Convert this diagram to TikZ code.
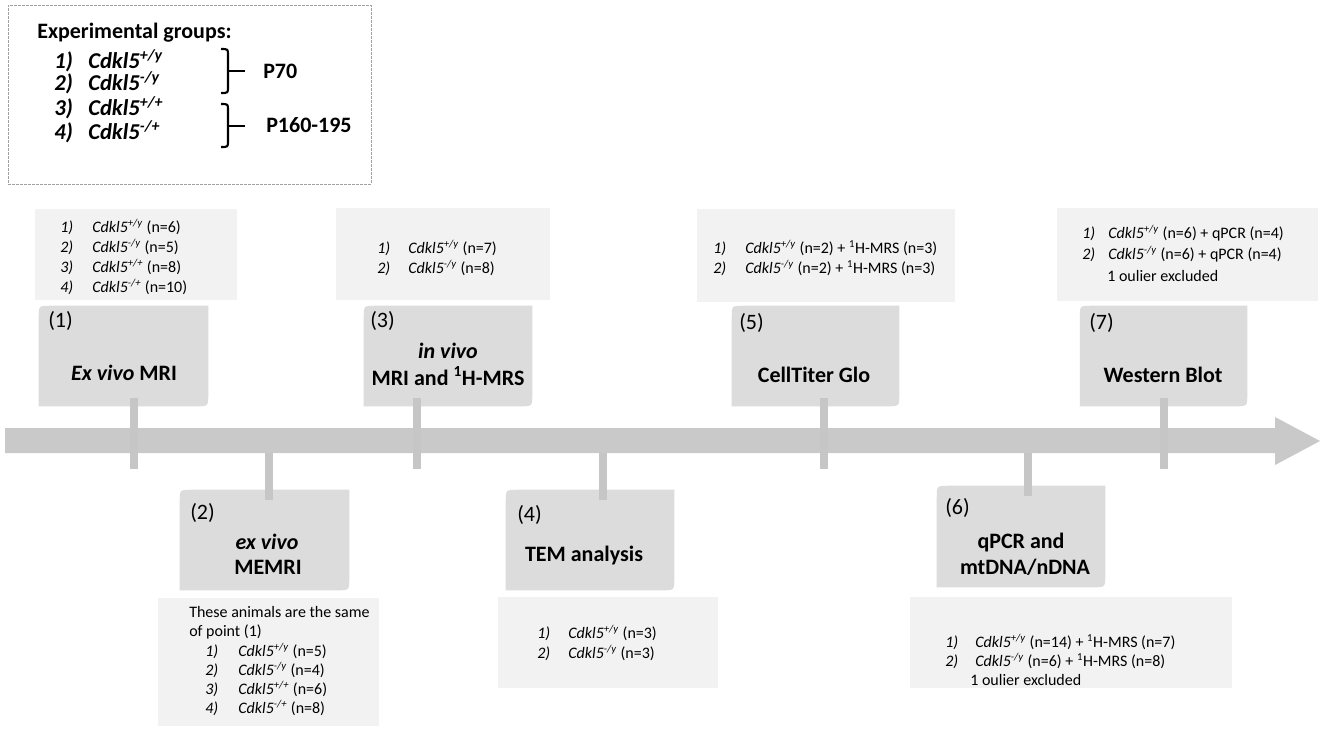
\documentclass[tikz,border=0pt]{standalone}
\usepackage{fontspec}
\setmainfont{Carlito}
\usetikzlibrary{calc,fit}
\definecolor{stepfill}{RGB}{220,220,220}
\definecolor{infofill}{RGB}{242,242,242}
\definecolor{barfill}{RGB}{201,201,201}
\definecolor{tickcol}{RGB}{198,198,198}
\definecolor{framecol}{RGB}{160,160,160}
\newcommand\gene[1]{\textit{Cdkl5}\textsuperscript{\textit{#1}}}
\newcommand\nm[2]{\makebox[#1pt][l]{\textit{#2)}}}
\newcommand\stepshape[1]{%
  \fill[stepfill] (#1.south west) -- ($(#1.north west)+(0,12)$)
    .. controls (#1.north west) .. ($(#1.north west)+(12,0)$)
    -- (#1.north east) -- ($(#1.south east)+(0,-12)$)
    .. controls (#1.south east) .. ($(#1.south east)+(-12,0)$) -- cycle;}
\tikzset{
  infobox/.style={fill=infofill, inner sep=0pt, draw=none},
  stepframe/.style={inner sep=0pt, draw=none},
  infotext/.style={anchor=west, inner sep=0pt, font=\fontsize{12}{15}\selectfont},
  stepnum/.style={anchor=west, inner sep=0pt, font=\fontsize{16.5}{19}\selectfont},
  steplabel/.style={inner sep=0pt, font=\bfseries\fontsize{16.5}{19}\selectfont},
  legtext/.style={anchor=west, inner sep=0pt, font=\bfseries\fontsize{16.5}{19}\selectfont},
  legitem/.style={anchor=west, inner sep=0pt, font=\bfseries\itshape\fontsize{17}{19}\selectfont},
  tickline/.style={draw=tickcol, line width=6pt},
  bracketline/.style={draw=black, line width=1.6pt},
  legframe/.style={draw=framecol, line width=0.75pt, dash pattern=on 2pt off 1pt, inner sep=0pt},
}
\begin{document}
\begin{tikzpicture}[x=0.75pt, y=-0.75pt]
\useasboundingbox (0,0) rectangle (1323,729);
\fill[white] (0,0) rectangle (1323,729);

% ---------- legend ----------
\node[legframe, fit={(8,5) (371,184)}] (legend) {};
\node[legtext] (lg0) at (37,33) {Experimental groups:};
\node[legitem] (lg1) at (54,61) {\makebox[25.5pt][l]{1)}Cdkl5\textsuperscript{+/y}};
\node[legitem] (lg2) at (54,83) {\makebox[25.5pt][l]{2)}Cdkl5\textsuperscript{-/y}};
\node[legitem] (lg3) at (54,108) {\makebox[25.5pt][l]{3)}Cdkl5\textsuperscript{+/+}};
\node[legitem] (lg4) at (54,132) {\makebox[25.5pt][l]{4)}Cdkl5\textsuperscript{-/+}};
\node[legtext] (p70) at (263,71) {P70};
\node[legtext] (p160) at (266,125) {P160-195};
\draw[bracketline] (221,49) .. controls (228,49) .. (228,55) -- (228,87) .. controls (228,93) .. (221,93);
\draw[bracketline] (228,71) -- (245,71);
\draw[bracketline] (221,104) .. controls (228,104) .. (228,110) -- (228,141) .. controls (228,147) .. (221,147);
\draw[bracketline] (228,126) -- (245,126);

% ---------- info boxes (top) ----------
\node[infobox, fit={(35,209) (237,300)}] (i1) {};
\node[infotext] (i1a) at (60,227) {\nm{24}{1}\gene{+/y} (n=6)};
\node[infotext] (i1b) at (60,247) {\nm{24}{2}\gene{-/y} (n=5)};
\node[infotext] (i1c) at (60,267) {\nm{24}{3}\gene{+/+} (n=8)};
\node[infotext] (i1d) at (60,287) {\nm{24}{4}\gene{-/+} (n=10)};

\node[infobox, fit={(336,208) (550,300)}] (i3) {};
\node[infotext] (i3a) at (377,248) {\nm{23.25}{1}\gene{+/y} (n=7)};
\node[infotext] (i3b) at (377,268) {\nm{23.25}{2}\gene{-/y} (n=8)};

\node[infobox, fit={(697,209) (955,302)}] (i5) {};
\node[infotext] (i5a) at (713,248) {\nm{24}{1}\gene{+/y} (n=2) + \textsuperscript{1}H-MRS (n=3)};
\node[infotext] (i5b) at (713,268) {\nm{24}{2}\gene{-/y} (n=2) + \textsuperscript{1}H-MRS (n=3)};

\node[infobox, fit={(1057,208) (1318,301)}] (i7) {};
\node[infotext] (i7a) at (1082,233) {\nm{19.5}{1}\gene{+/y} (n=6) + qPCR (n=4)};
\node[infotext] (i7b) at (1082,254) {\nm{19.5}{2}\gene{-/y} (n=6) + qPCR (n=4)};
\node[infotext] (i7c) at (1107,276) {1 oulier excluded};

% ---------- info boxes (bottom) ----------
\node[infobox, fit={(158,598) (379,726)}] (i2) {};
\node[infotext] (i2a) at (189,612) {These animals are the same};
\node[infotext] (i2b) at (189,632) {of point (1)};
\node[infotext] (i2c) at (205,651) {\nm{24.75}{1}\gene{+/y} (n=5)};
\node[infotext] (i2d) at (205,670) {\nm{24.75}{2}\gene{-/y} (n=4)};
\node[infotext] (i2e) at (205,689) {\nm{24.75}{3}\gene{+/+} (n=6)};
\node[infotext] (i2f) at (205,708) {\nm{24.75}{4}\gene{-/+} (n=8)};

\node[infobox, fit={(498,597) (718,688)}] (i4) {};
\node[infotext] (i4a) at (537,633) {\nm{23.25}{1}\gene{+/y} (n=3)};
\node[infotext] (i4b) at (537,653) {\nm{23.25}{2}\gene{-/y} (n=3)};

\node[infobox, fit={(910,597) (1232,688)}] (i6) {};
\node[infotext] (i6a) at (945,642) {\nm{22.5}{1}\gene{+/y} (n=14) + \textsuperscript{1}H-MRS (n=7)};
\node[infotext] (i6b) at (945,661) {\nm{22.5}{2}\gene{-/y} (n=6) + \textsuperscript{1}H-MRS (n=8)};
\node[infotext] (i6c) at (970,680) {1 oulier excluded};

% ---------- step boxes ----------
\node[stepframe, fit={(39,306) (208,406)}] (s1) {};
\node[stepframe, fit={(180,490) (349,590)}] (s2) {};
\node[stepframe, fit={(364,306) (532,406)}] (s3) {};
\node[stepframe, fit={(506,490) (674,590)}] (s4) {};
\node[stepframe, fit={(732,306) (899,406)}] (s5) {};
\node[stepframe, fit={(937,486) (1105,587)}] (s6) {};
\node[stepframe, fit={(1080,306) (1247,406)}] (s7) {};
\stepshape{s1}\stepshape{s2}\stepshape{s3}\stepshape{s4}\stepshape{s5}\stepshape{s6}\stepshape{s7}

% ---------- timeline ----------
\fill[barfill] (5,428) -- (1275,428) -- (1275,417) -- (1320,441) -- (1275,465) -- (1275,453) -- (5,453) -- cycle;
\coordinate (k1) at (134,469);
\coordinate (k3) at (417,469);
\coordinate (k5) at (824,469);
\coordinate (k7) at (1164,469);
\coordinate (k2) at (269,453);
\coordinate (k4) at (603,453);
\coordinate (k6) at (1028,453);
\draw[tickline] (k1) -- ($(k1 |- s1.south)+(0,-8)$);
\draw[tickline] (k3) -- ($(k3 |- s3.south)+(0,-8)$);
\draw[tickline] (k5) -- ($(k5 |- s5.south)+(0,-8)$);
\draw[tickline] (k7) -- ($(k7 |- s7.south)+(0,-8)$);
\draw[tickline] (k2) -- ($(k2 |- s2.north)+(0,10)$);
\draw[tickline] (k4) -- ($(k4 |- s4.north)+(0,10)$);
\draw[tickline] (k6) -- ($(k6 |- s6.north)+(0,10)$);

% ---------- step texts ----------
\node[stepnum] (n1) at (48,321) {(1)};
\node[steplabel] (l1) at (124,373) {\textit{Ex vivo} MRI};
\node[stepnum] (n2) at (190,513) {(2)};
\node[steplabel] (l2a) at (267,542) {\textit{ex vivo}};
\node[steplabel] (l2b) at (268,567) {MEMRI};
\node[stepnum] (n3) at (370,321) {(3)};
\node[steplabel] (l3a) at (448,351) {\textit{in vivo}};
\node[steplabel] (l3b) at (448,376) {MRI and \textsuperscript{1}H-MRS};
\node[stepnum] (n4) at (517,515) {(4)};
\node[steplabel] (l4) at (584,555) {TEM analysis};
\node[stepnum] (n5) at (739,323) {(5)};
\node[steplabel] (l5) at (814,375) {CellTiter Glo};
\node[stepnum] (n6) at (945,508) {(6)};
\node[steplabel] (l6a) at (1021,542) {qPCR and};
\node[steplabel] (l6b) at (1025,567) {mtDNA/nDNA};
\node[stepnum] (n7) at (1089,323) {(7)};
\node[steplabel] (l7) at (1163,375) {Western Blot};
\end{tikzpicture}
\end{document}
